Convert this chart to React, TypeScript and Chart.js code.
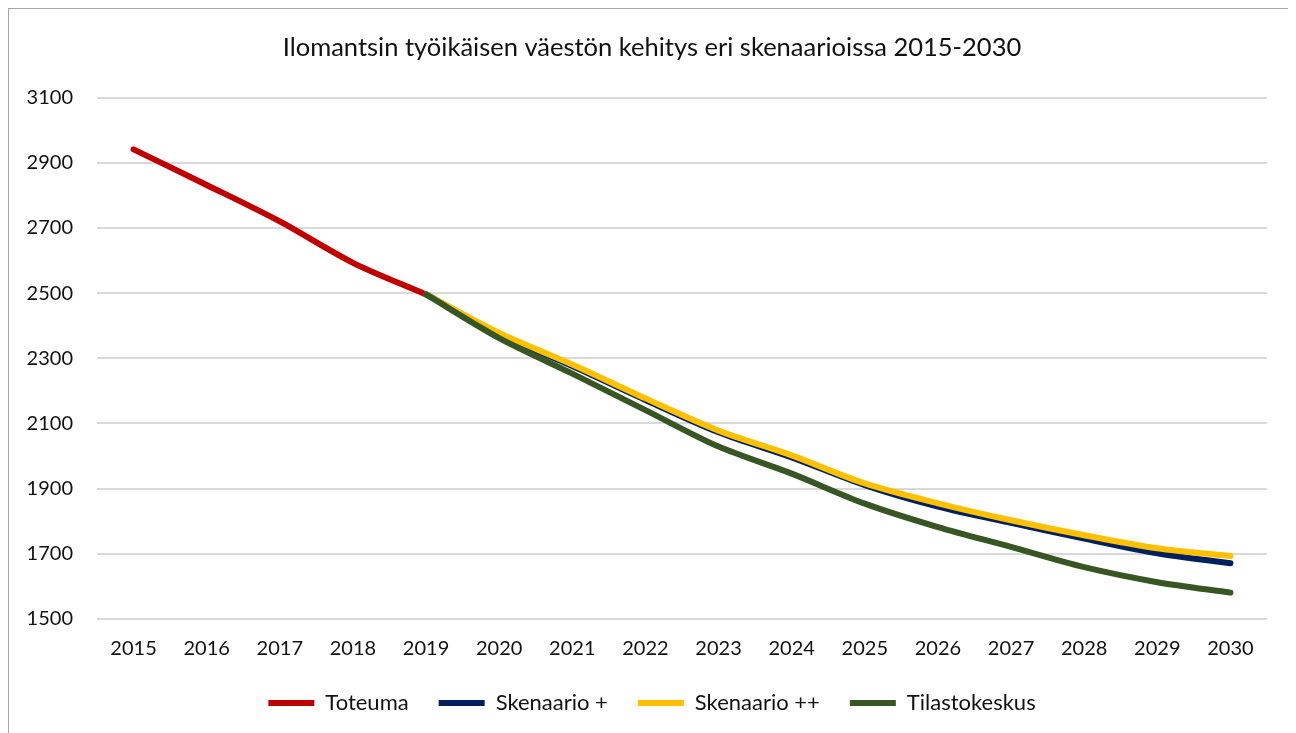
import React, { useEffect, useRef } from "react";
import { Chart, registerables } from "chart.js";

Chart.register(...registerables);

const TITLE = "Ilomantsin työikäisen väestön kehitys eri skenaarioissa 2015-2030";
const YEARS = ["2015", "2016", "2017", "2018", "2019", "2020", "2021", "2022", "2023", "2024", "2025", "2026", "2027", "2028", "2029", "2030"];
const TOTEUMA = [2941, 2832, 2720, 2593, 2496, null, null, null, null, null, null, null, null, null, null, null];
const SKENAARIO_PLUS = [null, null, null, null, 2496, 2374, 2276, 2172, 2073, 1996, 1911, 1845, 1795, 1747, 1702, 1671];
const SKENAARIO_PLUSPLUS = [null, null, null, null, 2496, 2378, 2281, 2177, 2078, 2002, 1916, 1855, 1803, 1757, 1717, 1693];
const TILASTOKESKUS = [null, null, null, null, 2496, 2362, 2253, 2141, 2029, 1946, 1854, 1782, 1721, 1659, 1613, 1581];
const Y_MIN = 1500;
const Y_MAX = 3100;
const Y_STEP = 200;

const FONT = "Lato, 'Open Sans', sans-serif";
const TEXT = "#111111";

export default function App() {
  const ref = useRef<HTMLCanvasElement | null>(null);

  useEffect(() => {
    document.body.style.overflow = "hidden";
    if (!ref.current) return;
    const mk = (label: string, data: (number | null)[], color: string, order: number) => ({
      label,
      data,
      order,
      borderColor: color,
      backgroundColor: color,
      borderWidth: 6,
      borderCapStyle: "round" as const,
      borderJoinStyle: "round" as const,
      pointRadius: 0,
      pointHoverRadius: 0,
      pointStyle: "line" as const,
      tension: 0.3,
      spanGaps: false,
      fill: false,
      yAxisID: "y",
    });
    const chart = new Chart(ref.current, {
      type: "line",
      data: {
        labels: YEARS,
        datasets: [
          mk("Toteuma", TOTEUMA, "#C00000", 4),
          mk("Skenaario +", SKENAARIO_PLUS, "#002060", 3),
          mk("Skenaario ++", SKENAARIO_PLUSPLUS, "#FFC000", 2),
          mk("Tilastokeskus", TILASTOKESKUS, "#375623", 1),
        ],
      },
      options: {
        animation: false,
        responsive: true,
        maintainAspectRatio: false,
        layout: { padding: { left: 6, right: 0, top: 0, bottom: 9 } },
        plugins: {
          tooltip: { enabled: false },
          title: {
            display: true,
            text: TITLE,
            color: TEXT,
            font: { family: FONT, size: 25.5, weight: "normal" },
            padding: { top: 23, bottom: 35 },
          },
          legend: {
            display: true,
            position: "bottom",
            reverse: true,
            labels: {
              usePointStyle: true,
              pointStyleWidth: 46,
              padding: 30,
              color: TEXT,
              font: { family: FONT, size: 22 },
            },
          },
        },
        scales: {
          x: {
            offset: true,
            grid: { display: false, drawTicks: false },
            border: { display: false },
            ticks: {
              color: TEXT,
              font: { family: FONT, size: 20 },
              padding: 18,
              maxRotation: 0,
              autoSkip: false,
            },
            afterFit: (s: any) => {
              s.height = 43;
            },
          },
          y: {
            position: "left",
            min: Y_MIN,
            max: Y_MAX,
            grid: { color: "#d9d9d9", lineWidth: 2, drawTicks: false },
            border: { display: false },
            ticks: {
              stepSize: Y_STEP,
              color: TEXT,
              font: { family: FONT, size: 20 },
              padding: 24,
              callback: (v: any) => String(v),
            },
            afterFit: (s: any) => {
              s.width = 82;
            },
          },
          spacer: {
            position: "right",
            display: true,
            grid: { display: false, drawTicks: false },
            border: { display: false },
            ticks: { display: false },
            afterFit: (s: any) => {
              s.width = 22;
            },
          },
        },
      },
    });
    return () => chart.destroy();
  }, []);

  return (
    <div style={{ width: 1280, height: 740, border: "1px solid #a6a6a6", background: "#fff" }}>
      <div style={{ position: "relative", width: 1280, height: 724 }}>
        <canvas ref={ref} />
      </div>
    </div>
  );
}
